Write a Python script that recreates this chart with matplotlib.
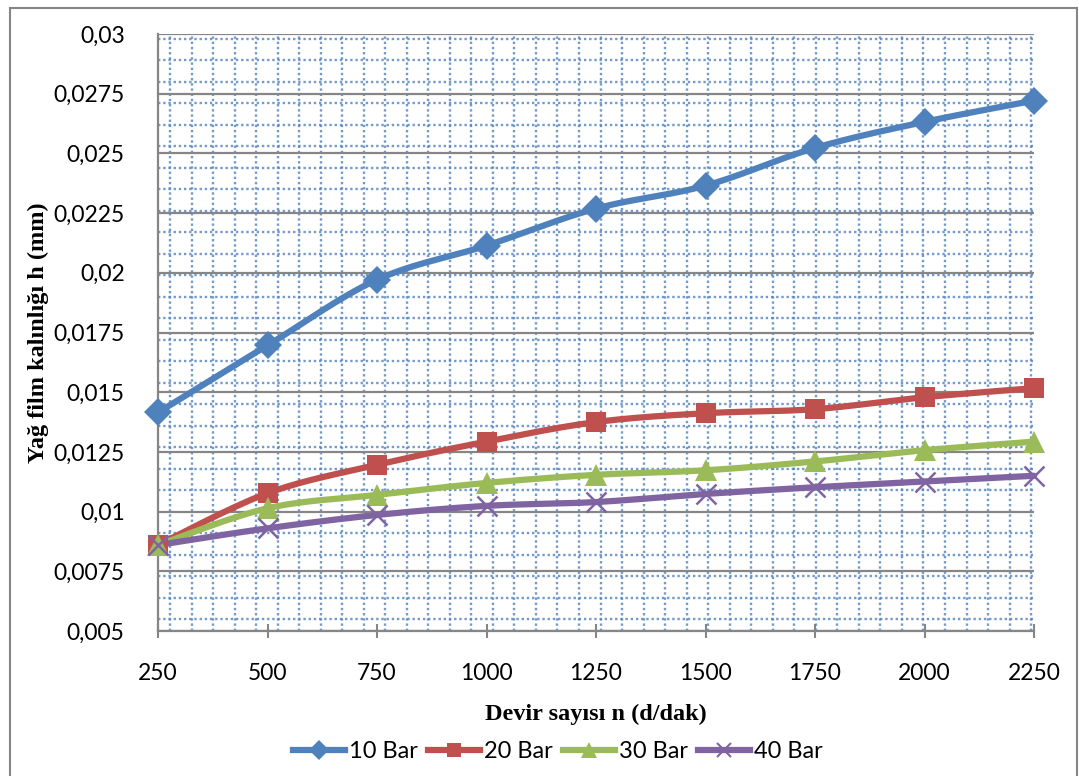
import matplotlib.pyplot as plt
import numpy as np
from matplotlib.ticker import FixedLocator, FuncFormatter, MultipleLocator
from matplotlib.patches import Rectangle

# devir sayısı (d/dak)
devir = [250, 500, 750, 1000, 1250, 1500, 1750, 2000, 2250]

# yağ film kalınlığı h (mm) - basınca göre
h_10bar = [0.01415, 0.01696, 0.01971, 0.02114, 0.02269, 0.02365, 0.02523, 0.02632, 0.02721]
h_20bar = [0.0086, 0.01077, 0.01196, 0.01293, 0.01375, 0.01412, 0.01429, 0.01479, 0.01517]
h_30bar = [0.0086, 0.01014, 0.0107, 0.0112, 0.01154, 0.01173, 0.0121, 0.01257, 0.01293]
h_40bar = [0.0086, 0.0093, 0.00986, 0.01024, 0.0104, 0.01074, 0.01102, 0.01126, 0.0115]

seriler = ['10 Bar', '20 Bar', '30 Bar', '40 Bar']
renkler = ['#4F81BD', '#C0504D', '#9BBB59', '#8064A2']
isaretler = ['D', 's', '^', 'x']
isaret_boyu = [14, 15, 16, 15]

yazi = 'Lato'
plt.rcParams['font.family'] = [yazi, 'DejaVu Sans']


def yumusat(x, y, n=30):
    # Excel tarzı yumuşatılmış çizgi (Catmull-Rom -> kübik Bezier)
    x = np.asarray(x, float)
    y = np.asarray(y, float)
    px, py = [], []
    for i in range(len(x) - 1):
        i0 = max(i - 1, 0)
        i3 = min(i + 2, len(x) - 1)
        c1x = x[i] + (x[i + 1] - x[i0]) / 6
        c1y = y[i] + (y[i + 1] - y[i0]) / 6
        c2x = x[i + 1] - (x[i3] - x[i]) / 6
        c2y = y[i + 1] - (y[i3] - y[i]) / 6
        t = np.linspace(0, 1, n)
        a, b, c, d = (1 - t) ** 3, 3 * (1 - t) ** 2 * t, 3 * (1 - t) * t ** 2, t ** 3
        px.extend(a * x[i] + b * c1x + c * c2x + d * x[i + 1])
        py.extend(a * y[i] + b * c1y + c * c2y + d * y[i + 1])
    return px, py


fig = plt.figure(figsize=(10.79, 7.76), dpi=100)
ax = fig.add_axes([158 / 1079, 1 - 631 / 776, 876 / 1079, 597 / 776])

gri = '#868686'
for yv, ad, renk, isr, boy in zip([h_10bar, h_20bar, h_30bar, h_40bar], seriler, renkler, isaretler, isaret_boyu):
    sx, sy = yumusat(devir, yv)
    ax.plot(sx, sy, color=renk, lw=4.5, solid_capstyle='round', zorder=3, clip_on=False)
    ax.plot(devir, yv, ls='none', marker=isr, ms=boy, mew=1.8 if isr == 'x' else 0,
            color=renk, zorder=4, clip_on=False)
    # lejant için örnek
    ax.plot([], [], color=renk, lw=4.5, marker=isr, ms=boy * 0.7,
            mew=1.5 if isr == 'x' else 0, label=ad)

ax.set_xlim(250, 2250)
ax.set_ylim(0.005, 0.03)

ax.yaxis.set_major_locator(MultipleLocator(0.0025))
ax.xaxis.set_major_locator(MultipleLocator(250))
ax.yaxis.set_minor_locator(FixedLocator(np.arange(0.01 - 0.0009 * 5, 0.0301, 0.0009)))
ax.xaxis.set_minor_locator(FixedLocator(np.arange(277.4, 2250, 49.15)))

virgul = FuncFormatter(lambda v, p: f'{v:g}'.replace('.', ','))
ax.yaxis.set_major_formatter(virgul)

ax.grid(False)
ax.grid(True, which='minor', axis='both', color='#4F81BD', lw=1.7,
        ls=(0, (1, 1.2)), alpha=0.8, zorder=1)
ax.grid(True, which='major', axis='y', color=gri, lw=1.6, zorder=2)
ax.set_axisbelow(True)

for k in ['top', 'right']:
    ax.spines[k].set_visible(False)
for k in ['left', 'bottom']:
    ax.spines[k].set_color(gri)
    ax.spines[k].set_linewidth(1.6)

ax.tick_params(axis='x', which='major', direction='inout', length=10, width=1.5,
               color=gri, pad=18, labelsize=16.5)
ax.tick_params(axis='y', which='major', length=0, pad=24, labelsize=16.5)
ax.tick_params(which='minor', length=0)

ax.set_xlabel('Devir sayısı n (d/dak)', family=['Liberation Serif', 'DejaVu Serif'],
              fontweight='bold', fontsize=17.5, labelpad=14)
ax.set_ylabel('Yağ film kalınlığı h (mm)', family=['Liberation Serif', 'DejaVu Serif'],
              fontweight='bold', fontsize=17.5, labelpad=3)

fig.legend(loc='center', bbox_to_anchor=(558 / 1079, 1 - 752 / 776), ncol=4,
           frameon=False, fontsize=17, handlelength=2.2, handletextpad=0.2,
           columnspacing=0.4)

# grafik alanı çerçevesi
fig.patches.append(Rectangle((10 / 1079, -0.05), 1067 / 1079, 1.05 - 8 / 776,
                             transform=fig.transFigure, fill=False,
                             edgecolor=gri, lw=1.5))

plt.savefig('out.png', dpi=100)
